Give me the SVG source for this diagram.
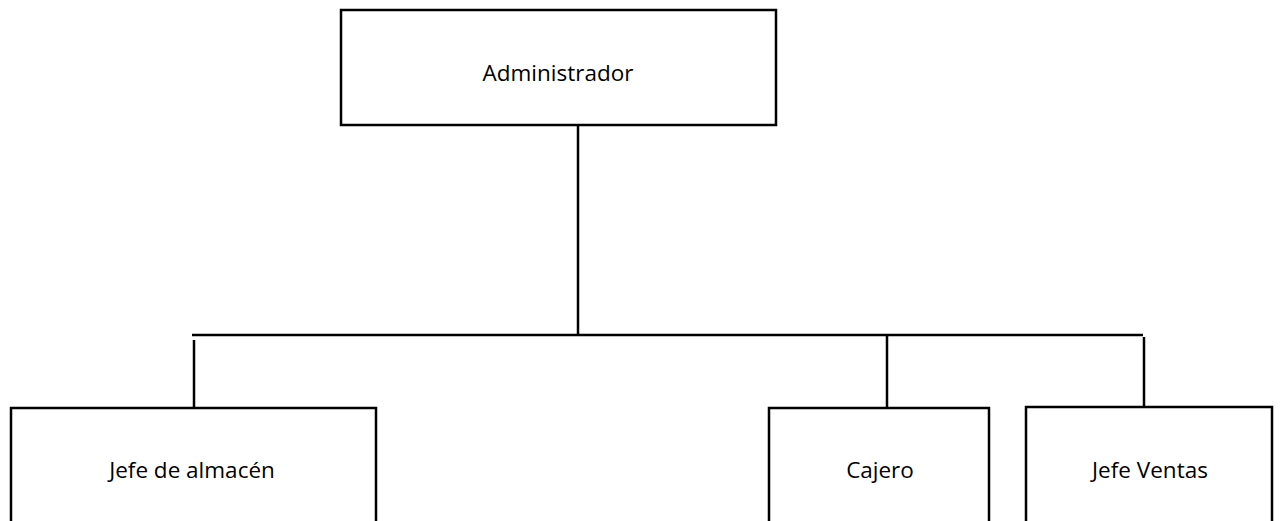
<svg xmlns="http://www.w3.org/2000/svg" width="1285" height="521" viewBox="0 0 1285 521">
<style>
.box{fill:#fff;stroke:#000;stroke-width:2.5}
.ln{stroke:#000;stroke-width:2.5;fill:none}
.t{font-family:"Open Sans","Liberation Sans",sans-serif;font-size:22.5px;fill:#000;text-anchor:middle;dominant-baseline:central}
</style>
<rect width="1285" height="521" fill="#fff"/>
<g id="connectors">
<line class="ln" x1="578" y1="125" x2="578" y2="334"/>
<line class="ln" x1="192" y1="335" x2="1143" y2="335"/>
<line class="ln" x1="194" y1="340" x2="194" y2="408"/>
<line class="ln" x1="887" y1="335" x2="887" y2="408"/>
<line class="ln" x1="1144" y1="337" x2="1144" y2="408"/>
</g>
<g id="administrador">
<rect class="box" x="341" y="10" width="435" height="115"/>
<text class="t" x="558" y="72">Administrador</text>
</g>
<g id="jefe-almacen">
<rect class="box" x="11" y="408" width="365" height="130"/>
<text class="t" x="192" y="469">Jefe de almacén</text>
</g>
<g id="cajero">
<rect class="box" x="769" y="408" width="220" height="130"/>
<text class="t" x="880" y="469">Cajero</text>
</g>
<g id="jefe-ventas">
<rect class="box" x="1026" y="407" width="246" height="130"/>
<text class="t" x="1150" y="469">Jefe Ventas</text>
</g>
</svg>
